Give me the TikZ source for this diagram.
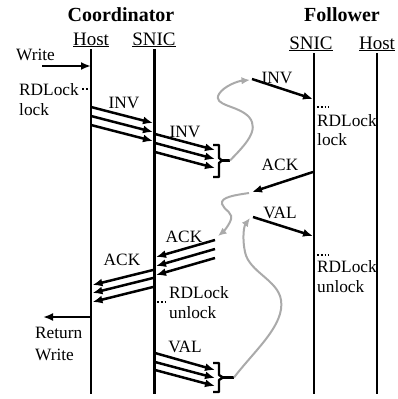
\documentclass[tikz,border=0pt]{standalone}
\usepackage{fontspec}
\setmainfont{Liberation Serif}
\usetikzlibrary{arrows.meta}
\tikzset{
  lbl/.style={inner sep=0pt, font=\fontsize{17.3}{19}\selectfont},
  hdr/.style={inner sep=0pt, font=\fontsize{19}{21}\selectfont, anchor=base},
  ttl/.style={inner sep=0pt, font=\fontsize{20}{22}\selectfont\bfseries, anchor=base},
  life/.style={line width=2.3pt},
  msg/.style={line width=2.5pt, -{Latex[length=10pt,width=8pt]}},
  gmsg/.style={line width=2pt, draw={rgb,255:red,170;green,170;blue,170}, -{Latex[length=8.5pt,width=7.5pt]}},
  brk/.style={line width=2.3pt, line join=round},
  dts/.style={line width=1.8pt, dash pattern=on 1.8pt off 2pt},
}
\begin{document}
\begin{tikzpicture}[x=1pt,y=-1pt]
\useasboundingbox (0,0) rectangle (397,399);
% titles
\node[ttl] (tc) at (121,21) {Coordinator};
\node[ttl] (tf) at (342,21) {Follower};
\node[hdr] (hc) at (91,45) {\underline{Host}};
\node[hdr] (sc) at (154,45) {\underline{SNIC}};
\node[hdr] (sf) at (311,49) {\underline{SNIC}};
\node[hdr] (hf) at (377,49) {\underline{Host}};
% lifelines
\coordinate (hc0) at (91,49);  \coordinate (hc1) at (91,394);
\coordinate (sc0) at (154.5,49); \coordinate (sc1) at (154.5,394);
\coordinate (sf0) at (314,53); \coordinate (sf1) at (314,394);
\coordinate (hf0) at (377,53); \coordinate (hf1) at (377,394);
\draw[life] (hc0) -- (hc1);
\draw[life] (sc0) -- (sc1);
\draw[life] (sf0) -- (sf1);
\draw[life] (hf0) -- (hf1);
% write
\node[lbl, anchor=base west] (wr) at (16,60) {Write};
\coordinate (w0) at (42,66); \coordinate (w1) at (91,66);
\draw[msg] (w0) -- (w1);
\node[lbl, anchor=base west] (rl1) at (19,95) {RDLock};
\node[lbl, anchor=base west] (lk1) at (19,115) {lock};
\coordinate (d1a) at (82,89); \coordinate (d1b) at (91,89);
\draw[dts] (d1a) -- (d1b);
% INV set 1
\node[lbl, anchor=base] (inv1) at (124,108) {INV};
\coordinate (a1) at (91,107);  \coordinate (b1) at (153,123);
\coordinate (a2) at (91,116);  \coordinate (b2) at (153,132);
\coordinate (a3) at (91,125);  \coordinate (b3) at (153,141);
\draw[msg] (a1) -- (b1);
\draw[msg] (a2) -- (b2);
\draw[msg] (a3) -- (b3);
% INV set 2
\node[lbl, anchor=base] (inv2) at (185,137) {INV};
\coordinate (c1) at (155,134); \coordinate (e1) at (215,150);
\coordinate (c2) at (155,143); \coordinate (e2) at (215,159);
\coordinate (c3) at (155,152); \coordinate (e3) at (215,168);
\draw[msg] (c1) -- (e1);
\draw[msg] (c2) -- (e2);
\draw[msg] (c3) -- (e3);
% bracket 1
\coordinate (k1) at (222,160.5); \coordinate (k1e) at (230,160.5);
\draw[brk] (213,145) -- (219,145) -- (219,158) -- (k1) -- (219,163) -- (219,177) -- (213,177);
\draw[brk] (k1) -- (k1e);
% gray curve 1
\coordinate (g1e) at (250,80);
\draw[gmsg] (k1e) .. controls (245,145) and (260,130) .. (249,117)
  .. controls (238,105) and (212,106) .. (219,94)
  .. controls (224,86) and (238,81) .. (g1e);
% follower INV
\node[lbl, anchor=base] (inv3) at (277,83) {INV};
\coordinate (f1a) at (252,79); \coordinate (f1b) at (313,99);
\draw[msg] (f1a) -- (f1b);
\coordinate (d2a) at (317,107); \coordinate (d2b) at (329,107);
\draw[dts] (d2a) -- (d2b);
\node[lbl, anchor=base west] (rl2) at (317,126) {RDLock};
\node[lbl, anchor=base west] (lk2) at (317,145) {lock};
% follower ACK
\node[lbl, anchor=base] (ack1) at (280,170) {ACK};
\coordinate (f2a) at (313,172); \coordinate (f2b) at (252,192);
\draw[msg] (f2a) -- (f2b);
% gray curve 2
\coordinate (g2s) at (249,193); \coordinate (g2e) at (218,236);
\draw[gmsg] (g2s) .. controls (236,195) and (220,197) .. (222,204)
  .. controls (224,211) and (235,212) .. (230,222)
  .. controls (227,228) and (223,232) .. (g2e);
% follower VAL
\node[lbl, anchor=base] (val1) at (280,218) {VAL};
\coordinate (f3a) at (253,217); \coordinate (f3b) at (313,236);
\draw[msg] (f3a) -- (f3b);
\coordinate (d3a) at (317,255); \coordinate (d3b) at (329,255);
\draw[dts] (d3a) -- (d3b);
\node[lbl, anchor=base west] (rl3) at (317,272) {RDLock};
\node[lbl, anchor=base west] (ul3) at (317,292) {unlock};
% ACK set right
\node[lbl, anchor=base] (ack2) at (184,242) {ACK};
\coordinate (p1) at (215,240); \coordinate (q1) at (156,257);
\coordinate (p2) at (215,249); \coordinate (q2) at (156,266);
\coordinate (p3) at (215,258); \coordinate (q3) at (156,275);
\draw[msg] (p1) -- (q1);
\draw[msg] (p2) -- (q2);
\draw[msg] (p3) -- (q3);
% ACK set left
\node[lbl, anchor=base] (ack3) at (122,265) {ACK};
\coordinate (r1) at (153,270); \coordinate (s1) at (92.5,285);
\coordinate (r2) at (153,278); \coordinate (s2) at (92.5,293);
\coordinate (r3) at (153,287); \coordinate (s3) at (92.5,302);
\draw[msg] (r1) -- (s1);
\draw[msg] (r2) -- (s2);
\draw[msg] (r3) -- (s3);
\coordinate (d4a) at (157,302); \coordinate (d4b) at (168,302);
\draw[dts] (d4a) -- (d4b);
\node[lbl, anchor=base west] (rl4) at (169,298) {RDLock};
\node[lbl, anchor=base west] (ul4) at (169,318) {unlock};
% return
\coordinate (rt0) at (91,317); \coordinate (rt1) at (43,317);
\draw[msg] (rt0) -- (rt1);
\node[lbl, anchor=base west] (ret) at (35,338) {Return};
\node[lbl, anchor=base west] (rwr) at (35,360) {Write};
% VAL set
\node[lbl, anchor=base] (val2) at (185,352) {VAL};
\coordinate (u1) at (155,353); \coordinate (v1) at (215,370);
\coordinate (u2) at (155,362); \coordinate (v2) at (215,378);
\coordinate (u3) at (155,370); \coordinate (v3) at (215,386);
\draw[msg] (u1) -- (v1);
\draw[msg] (u2) -- (v2);
\draw[msg] (u3) -- (v3);
% bracket 2
\coordinate (k2) at (223,377.5); \coordinate (k2e) at (234,377.5);
\draw[brk] (213,363) -- (219,363) -- (219,375) -- (k2) -- (219,380) -- (219,392) -- (213,392);
\draw[brk] (k2) -- (k2e);
% gray curve 3
\coordinate (g3e) at (250,218);
\draw[gmsg] (k2e) .. controls (255,350) and (285,325) .. (281,300)
  .. controls (278,280) and (249,272) .. (245,252)
  .. controls (242,238) and (244,226) .. (g3e);
\end{tikzpicture}
\end{document}
